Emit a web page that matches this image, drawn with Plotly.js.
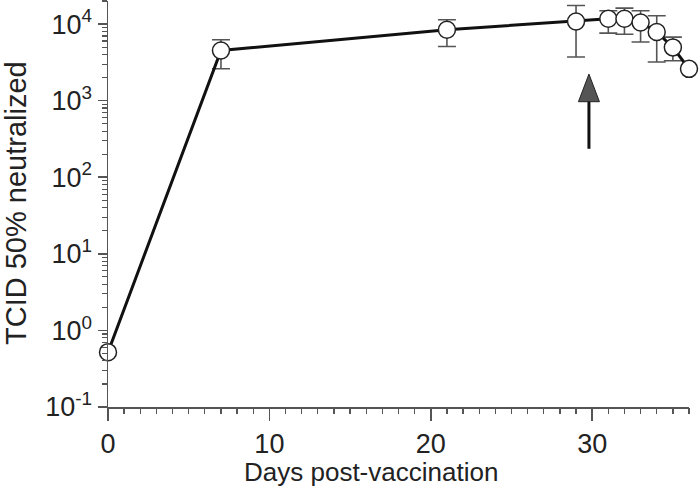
<!DOCTYPE html>
<html>
<head>
<meta charset="utf-8">
<script src="https://cdn.plot.ly/plotly-3.0.1.min.js"></script>
<style>html,body{margin:0;padding:0;background:#fff;}#chart{width:700px;height:491px;}</style>
</head>
<body>
<div id="chart"></div>
<script>
// Data
var days = [0, 7, 21, 29, 31, 32, 33, 34, 35, 36];
var titer = [0.52, 4520, 8430, 10800, 11700, 11700, 10500, 7870, 4960, 2600];
var errPlus = [0, 1720, 2940, 6700, 3230, 4460, 4440, 4950, 1800, 0];
var errMinus = [0, 1915, 3330, 7090, 4080, 4330, 4670, 4680, 1640, 0];
var yTickVals = [0.1, 1, 10, 100, 1000, 10000];
var yTickText = ['10<sup>-1</sup>', '10<sup>0</sup>', '10<sup>1</sup>', '10<sup>2</sup>', '10<sup>3</sup>', '10<sup>4</sup>'];
var xTickVals = [0, 10, 20, 30];
var xTickText = ['0', '10', '20', '30'];
var xTitle = 'Days post-vaccination';
var yTitle = 'TCID 50% neutralized';
var arrowDay = 29.8;

// Minor tick positions for the axes
var yMinor = [];
for (var e = -1; e <= 4; e++) {
  for (var m = 2; m <= 9; m++) {
    var v = m * Math.pow(10, e);
    if (v <= 20000) yMinor.push(v);
  }
}
var xMinor = [];
for (var d = 0; d <= 36; d++) {
  if (xTickVals.indexOf(d) < 0) xMinor.push(d);
}

var axisCol = '#555';
var textCol = '#222';
var font = 'Liberation Sans, Arial, sans-serif';
var yRange = [-1, Math.log10(20000)];

var trace = {
  x: days, y: titer, type: 'scatter', mode: 'lines+markers',
  cliponaxis: false,
  line: {color: '#111', width: 3},
  marker: {size: 17, color: '#fff', line: {color: '#222', width: 1.5}},
  error_y: {type: 'data', symmetric: false, array: errPlus, arrayminus: errMinus,
            color: '#555', thickness: 1.6, width: 9}
};
var dummy = {x: [], y: [], xaxis: 'x2', yaxis: 'y2', type: 'scatter', mode: 'markers', hoverinfo: 'skip'};

var layout = {
  width: 700, height: 491,
  margin: {l: 108, r: 11, t: 1, b: 84},
  paper_bgcolor: '#fff', plot_bgcolor: '#fff',
  showlegend: false,
  font: {family: font, color: textCol},
  xaxis: {
    range: [0, 36], showgrid: false, zeroline: false,
    showline: true, linecolor: axisCol, linewidth: 1.5,
    ticks: 'outside', ticklen: 12, tickwidth: 1.5, tickcolor: axisCol,
    tickmode: 'array', tickvals: xTickVals, ticktext: xTickText,
    tickfont: {size: 27, color: textCol, family: font}
  },
  xaxis2: {
    overlaying: 'x', anchor: 'y', side: 'bottom', range: [0, 36],
    showgrid: false, zeroline: false, showline: false,
    ticks: 'outside', ticklen: 6, tickwidth: 1.3, tickcolor: axisCol,
    tickmode: 'array', tickvals: xMinor, showticklabels: false
  },
  yaxis: {
    type: 'log', range: yRange, showgrid: false, zeroline: false,
    showline: true, linecolor: axisCol, linewidth: 1.5,
    ticks: 'outside', ticklen: 9, tickwidth: 1.5, tickcolor: axisCol,
    tickmode: 'array', tickvals: yTickVals, ticktext: yTickText,
    tickfont: {size: 27, color: textCol, family: font}
  },
  yaxis2: {
    overlaying: 'y', anchor: 'x', side: 'left', type: 'log', range: yRange,
    showgrid: false, zeroline: false, showline: false,
    ticks: 'outside', ticklen: 5, tickwidth: 1.2, tickcolor: axisCol,
    tickmode: 'array', tickvals: yMinor, showticklabels: false
  },
  annotations: [
    {text: xTitle, xref: 'paper', yref: 'paper', x: 0.453, y: -0.159,
     xanchor: 'center', yanchor: 'middle', showarrow: false,
     font: {size: 26, color: textCol, family: font}},
    {text: yTitle, xref: 'paper', yref: 'paper', x: -0.158, y: 0.503, textangle: -90,
     xanchor: 'center', yanchor: 'middle', showarrow: false,
     font: {size: 29, color: textCol, family: font}}
  ],
  shapes: [
    {type: 'line', xref: 'x', yref: 'paper', x0: arrowDay, x1: arrowDay, y0: 0.636, y1: 0.76,
     line: {color: '#111', width: 3}},
    {type: 'path', xref: 'x', yref: 'paper',
     path: 'M ' + (arrowDay - 0.65) + ',0.752 L ' + arrowDay + ',0.820 L ' + (arrowDay + 0.65) + ',0.752 Z',
     fillcolor: '#555', line: {color: '#222', width: 1}}
  ]
};

Plotly.newPlot('chart', [trace, dummy], layout, {displayModeBar: false, staticPlot: true});
</script>
</body>
</html>
